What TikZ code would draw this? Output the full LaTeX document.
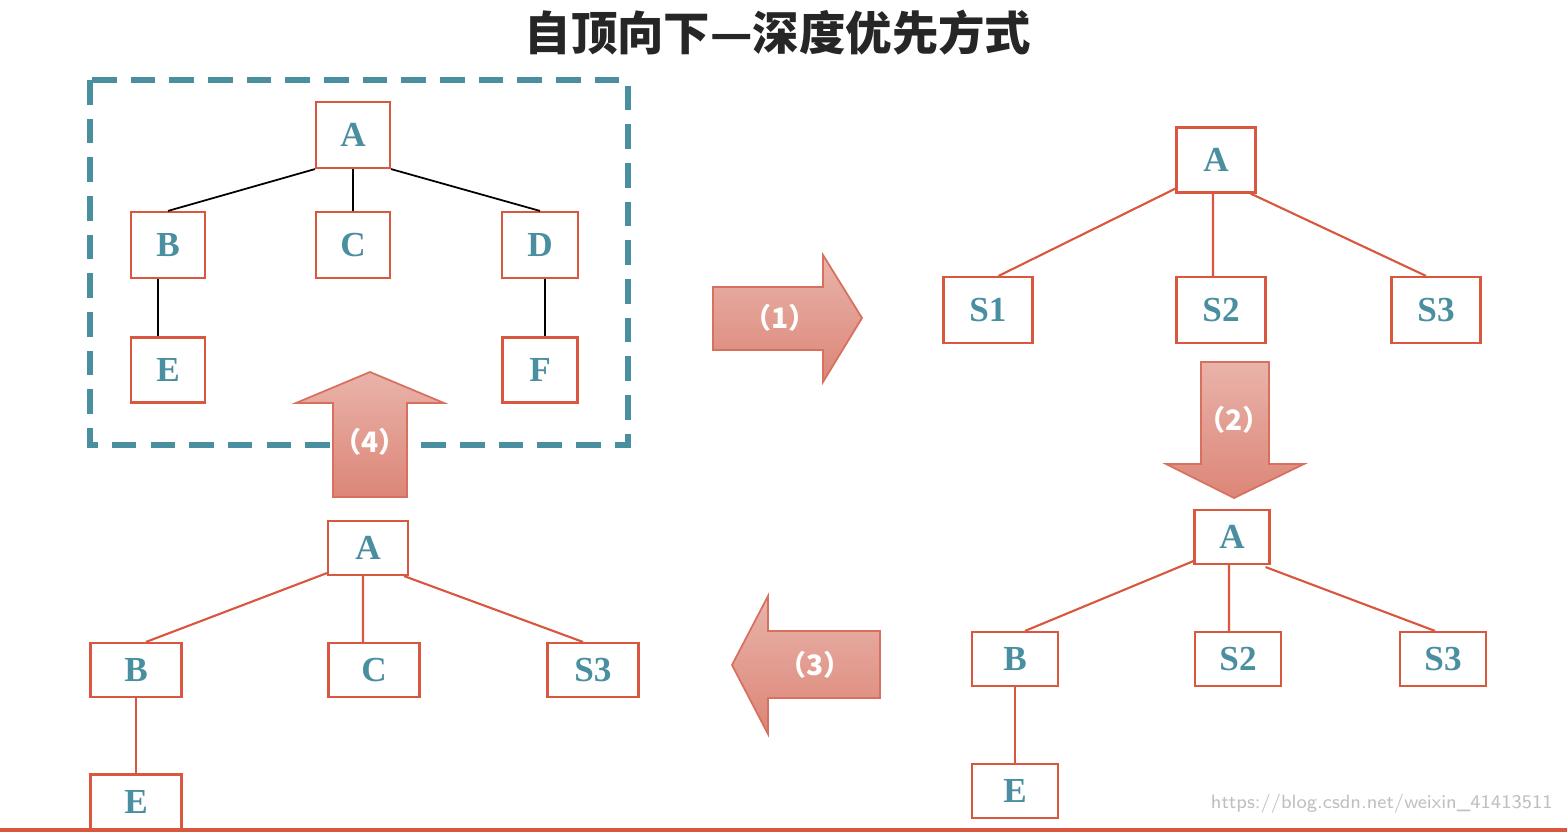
\documentclass[tikz,border=0pt]{standalone}
\usepackage{fontspec}
\setmainfont{Liberation Serif}
\newfontfamily\cjk{Noto Sans CJK SC}
\definecolor{bred}{HTML}{D9573F}
\definecolor{tealc}{HTML}{4A8FA0}
\definecolor{arrtop}{HTML}{E9B3AA}
\definecolor{arrbot}{HTML}{DC8677}
\definecolor{arredge}{HTML}{D8705F}
\tikzset{
 bx/.style={draw=bred,line width=0.6pt,fill=white,text=tealc,font=\fontsize{10}{11}\selectfont\bfseries,inner sep=0pt},
 blk/.style={draw=black,line width=0.5pt},
 rl/.style={draw=bred,line width=0.6pt},
 arr/.style={top color=arrtop,bottom color=arrbot,draw=arredge,line width=0.5pt},
 alab/.style={text=white,font=\cjk\fontsize{8}{9}\selectfont\bfseries}
}
\begin{document}
\begin{tikzpicture}[x=0.01cm,y=-0.01cm]
\useasboundingbox (0,0) rectangle (1567,833);
\fill[white] (0,0) rectangle (1567,833);
\node[font=\cjk\fontsize{13.2}{15}\selectfont\bfseries,text=black!85] (title) at (778,33) {自顶向下—深度优先方式};
% dashed frame
\draw[tealc,line width=1.6pt,dash pattern=on 7pt off 4pt] (90,80) rectangle (628,445);
% tree 0
\node[bx,minimum width=0.74cm,minimum height=0.66cm] (a0) at (353,135) {A};
\node[bx,minimum width=0.74cm,minimum height=0.66cm] (b0) at (168,245) {B};
\node[bx,minimum width=0.74cm,minimum height=0.66cm] (c0) at (353,245) {C};
\node[bx,minimum width=0.76cm,minimum height=0.66cm] (d0) at (540,245) {D};
\node[bx,minimum width=0.74cm,minimum height=0.65cm] (e0) at (168,370) {E};
\node[bx,minimum width=0.75cm,minimum height=0.65cm] (f0) at (540,370) {F};
\draw[blk] (a0.south west) -- (b0.north);
\draw[blk] (a0.south) -- (c0.north);
\draw[blk] (a0.south east) -- (d0.north);
\draw[blk] ([xshift=-0.1cm]b0.south) -- ([xshift=-0.1cm]e0.north);
\draw[blk] ([xshift=0.05cm]d0.south) -- ([xshift=0.05cm]f0.north);
% tree 1
\node[bx,minimum width=0.79cm,minimum height=0.65cm] (a1) at (1216,160) {A};
\node[bx,minimum width=0.89cm,minimum height=0.66cm] (s11) at (988,310) {S1};
\node[bx,minimum width=0.89cm,minimum height=0.66cm] (s12) at (1221,310) {S2};
\node[bx,minimum width=0.89cm,minimum height=0.66cm] (s13) at (1436,310) {S3};
\draw[rl] ([yshift=0.05cm]a1.south west) -- ([xshift=-0.35cm]s11.north east);
\draw[rl] ([xshift=-0.03cm]a1.south) -- ([xshift=-0.08cm]s12.north);
\draw[rl] ([xshift=-0.06cm]a1.south east) -- ([xshift=-0.1cm]s13.north);
% tree 2
\node[bx,minimum width=0.75cm,minimum height=0.54cm] (a2) at (1232,537) {A};
\node[bx,minimum width=0.86cm,minimum height=0.54cm] (b2) at (1015,659) {B};
\node[bx,minimum width=0.86cm,minimum height=0.54cm] (s22) at (1238,659) {S2};
\node[bx,minimum width=0.86cm,minimum height=0.54cm] (s23) at (1443,659) {S3};
\node[bx,minimum width=0.86cm,minimum height=0.54cm] (e2) at (1015,791) {E};
\draw[rl] ([yshift=0.04cm]a2.south west) -- ([xshift=0.1cm]b2.north);
\draw[rl] ([xshift=-0.03cm]a2.south) -- ([xshift=-0.09cm]s22.north);
\draw[rl] ([xshift=-0.05cm,yshift=-0.02cm]a2.south east) -- ([xshift=-0.08cm]s23.north);
\draw[rl] (b2.south) -- (e2.north);
% tree 3
\node[bx,minimum width=0.80cm,minimum height=0.54cm] (a3) at (368,548) {A};
\node[bx,minimum width=0.91cm,minimum height=0.54cm] (b3) at (136,670) {B};
\node[bx,minimum width=0.91cm,minimum height=0.54cm] (c3) at (374,670) {C};
\node[bx,minimum width=0.91cm,minimum height=0.54cm] (s33) at (593,670) {S3};
\node[bx,minimum width=0.91cm,minimum height=0.55cm] (e3) at (136,802) {E};
\draw[rl] ([yshift=0.03cm]a3.south west) -- ([xshift=0.1cm]b3.north);
\draw[rl] ([xshift=-0.05cm]a3.south) -- ([xshift=-0.11cm]c3.north);
\draw[rl] ([xshift=-0.05cm]a3.south east) -- ([xshift=-0.1cm]s33.north);
\draw[rl] (b3.south) -- (e3.north);
% arrows
\draw[arr] (713,287) -- (823,287) -- (823,255) -- (862,318) -- (823,382) -- (823,350) -- (713,350) -- cycle;
\node[alab] (l1) at (780,318) {（1）};
\draw[arr] (1201,362) -- (1269,362) -- (1269,464) -- (1304,464) -- (1234,498) -- (1166,464) -- (1201,464) -- cycle;
\node[alab] (l2) at (1234,420) {（2）};
\draw[arr] (880,631) -- (768,631) -- (768,596) -- (732,665) -- (768,734) -- (768,698) -- (880,698) -- cycle;
\node[alab] (l3) at (815,665) {（3）};
\draw[arr] (333,497) -- (333,403) -- (296,403) -- (370,372) -- (444,403) -- (407,403) -- (407,497) -- cycle;
\node[alab] (l4) at (370,442) {（4）};
% bottom line & watermark
\draw[bred,line width=1pt] (0,830) -- (1567,830);
\node[anchor=south east,text=black!25,font=\sffamily\fontsize{5.5}{7}\selectfont] (wm) at (1565,826) {https://blog.csdn.net/weixin\_41413511};
\end{tikzpicture}
\end{document}
